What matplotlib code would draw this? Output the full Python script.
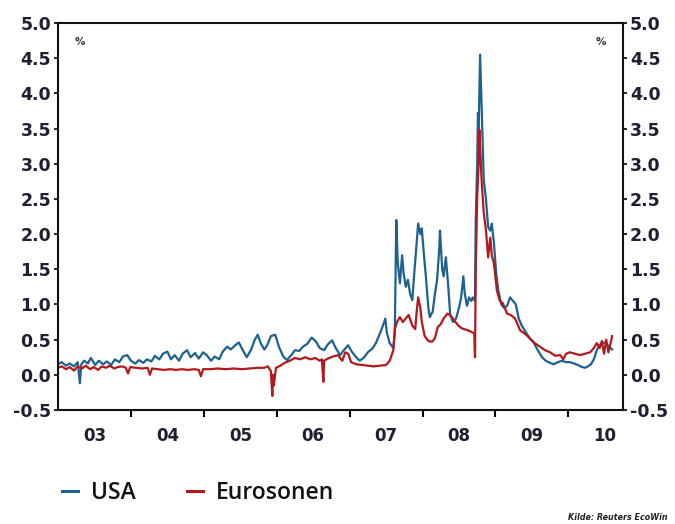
import matplotlib
matplotlib.use("Agg")
import matplotlib.pyplot as plt
import numpy as np

# ---- data (decimal year, %) ----
usa_t = [2003.00, 2003.05, 2003.11, 2003.16, 2003.22, 2003.27, 2003.30, 2003.32, 2003.36, 2003.41,
         2003.45, 2003.51, 2003.56, 2003.62, 2003.67, 2003.73, 2003.78, 2003.84, 2003.89, 2003.95,
         2004.00, 2004.06, 2004.11, 2004.17, 2004.22, 2004.28, 2004.33, 2004.39, 2004.44, 2004.50,
         2004.55, 2004.60, 2004.66, 2004.71, 2004.77, 2004.82, 2004.88, 2004.93, 2004.99, 2005.04,
         2005.10, 2005.15, 2005.21, 2005.26, 2005.32, 2005.37, 2005.43, 2005.48, 2005.54, 2005.59,
         2005.65, 2005.70, 2005.74, 2005.78, 2005.83, 2005.87, 2005.92, 2005.98, 2006.03, 2006.09,
         2006.14, 2006.20, 2006.25, 2006.31, 2006.36, 2006.42, 2006.48, 2006.54, 2006.59, 2006.65,
         2006.70, 2006.76, 2006.81, 2006.87, 2006.92, 2006.98, 2007.03, 2007.09, 2007.14, 2007.20,
         2007.25, 2007.31, 2007.36, 2007.40, 2007.44, 2007.49, 2007.51, 2007.55, 2007.60, 2007.62,
         2007.64, 2007.66, 2007.69, 2007.72, 2007.74, 2007.77, 2007.80, 2007.83, 2007.86, 2007.88,
         2007.91, 2007.94, 2007.97, 2007.99, 2008.02, 2008.05, 2008.08, 2008.10, 2008.14, 2008.17,
         2008.20, 2008.23, 2008.24, 2008.27, 2008.29, 2008.32, 2008.35, 2008.38, 2008.42, 2008.46,
         2008.50, 2008.53, 2008.56, 2008.58, 2008.61, 2008.64, 2008.67, 2008.69, 2008.72, 2008.73,
         2008.75, 2008.76, 2008.77, 2008.79, 2008.82, 2008.84, 2008.87, 2008.90, 2008.93, 2008.95,
         2008.98, 2009.01, 2009.04, 2009.08, 2009.12, 2009.16, 2009.20, 2009.24, 2009.28, 2009.32,
         2009.36, 2009.42, 2009.47, 2009.53, 2009.58, 2009.64, 2009.69, 2009.75, 2009.80, 2009.86,
         2009.91, 2009.97, 2010.02, 2010.08, 2010.13, 2010.19, 2010.23, 2010.27, 2010.31, 2010.35,
         2010.39, 2010.43, 2010.48, 2010.52, 2010.56, 2010.60]
usa_v = [0.15, 0.18, 0.13, 0.16, 0.12, 0.18, -0.12, 0.15, 0.20, 0.16,
         0.24, 0.14, 0.20, 0.15, 0.19, 0.14, 0.22, 0.18, 0.26, 0.28,
         0.20, 0.16, 0.21, 0.17, 0.22, 0.19, 0.27, 0.22, 0.30, 0.33,
         0.22, 0.28, 0.20, 0.30, 0.35, 0.25, 0.31, 0.23, 0.32, 0.28,
         0.20, 0.26, 0.22, 0.33, 0.40, 0.36, 0.42, 0.46, 0.34, 0.25,
         0.36, 0.50, 0.57, 0.45, 0.36, 0.42, 0.55, 0.57, 0.40, 0.26,
         0.21, 0.28, 0.35, 0.34, 0.40, 0.44, 0.53, 0.47, 0.38, 0.35,
         0.43, 0.49, 0.38, 0.28, 0.35, 0.42, 0.33, 0.25, 0.20, 0.25,
         0.32, 0.37, 0.45, 0.55, 0.65, 0.80, 0.60, 0.45, 0.38, 0.60,
         2.20, 1.60, 1.30, 1.70, 1.45, 1.25, 1.35, 1.15, 1.06, 1.35,
         1.75, 2.15, 2.00, 2.08, 1.70, 1.35, 0.95, 0.82, 0.90, 1.15,
         1.35, 1.80, 2.05, 1.50, 1.40, 1.67, 1.30, 0.85, 0.75, 0.80,
         0.95, 1.10, 1.40, 1.15, 0.98, 1.10, 1.05, 1.10, 1.05, 2.20,
         3.00, 3.72, 3.50, 4.55, 3.48, 2.77, 2.50, 2.10, 2.05, 2.15,
         1.87, 1.45, 1.20, 1.00, 0.95, 0.98, 1.10, 1.05, 1.00, 0.80,
         0.70, 0.60, 0.52, 0.45, 0.35, 0.25, 0.20, 0.17, 0.15, 0.18,
         0.20, 0.18, 0.18, 0.16, 0.14, 0.11, 0.10, 0.12, 0.15, 0.22,
         0.35, 0.42, 0.46, 0.44, 0.40, 0.36]

euro_t = [2003.00, 2003.05, 2003.11, 2003.16, 2003.22, 2003.27, 2003.33, 2003.38, 2003.44, 2003.49,
          2003.55, 2003.60, 2003.66, 2003.71, 2003.77, 2003.82, 2003.88, 2003.93, 2003.96, 2003.99,
          2004.07, 2004.15, 2004.23, 2004.26, 2004.29, 2004.37, 2004.45, 2004.54, 2004.62, 2004.70,
          2004.78, 2004.87, 2004.93, 2004.96, 2004.99, 2005.09, 2005.19, 2005.30, 2005.41, 2005.52,
          2005.63, 2005.74, 2005.83, 2005.88, 2005.92, 2005.94, 2005.95, 2005.96, 2005.99, 2006.05,
          2006.11, 2006.18, 2006.25, 2006.32, 2006.39, 2006.46, 2006.53, 2006.59, 2006.62, 2006.64,
          2006.65, 2006.70, 2006.77, 2006.84, 2006.90, 2006.94, 2006.98, 2007.02, 2007.09, 2007.17,
          2007.25, 2007.33, 2007.42, 2007.50, 2007.55, 2007.60, 2007.62, 2007.65, 2007.69, 2007.73,
          2007.77, 2007.81, 2007.86, 2007.90, 2007.92, 2007.94, 2007.97, 2007.99, 2008.03, 2008.08,
          2008.13, 2008.17, 2008.21, 2008.25, 2008.29, 2008.34, 2008.38, 2008.43, 2008.49, 2008.54,
          2008.60, 2008.65, 2008.69, 2008.71, 2008.72, 2008.73, 2008.75, 2008.77, 2008.78, 2008.81,
          2008.84, 2008.87, 2008.90, 2008.93, 2008.95, 2008.98, 2009.02, 2009.06, 2009.10, 2009.16,
          2009.21, 2009.27, 2009.34, 2009.41, 2009.47, 2009.54, 2009.61, 2009.68, 2009.75, 2009.82,
          2009.89, 2009.93, 2009.97, 2010.02, 2010.09, 2010.16, 2010.23, 2010.30, 2010.35, 2010.39,
          2010.43, 2010.46, 2010.49, 2010.52, 2010.55, 2010.58, 2010.60]
euro_v = [0.10, 0.12, 0.08, 0.11, 0.06, 0.12, 0.09, 0.13, 0.08, 0.11,
          0.07, 0.12, 0.10, 0.13, 0.09, 0.11, 0.12, 0.10, 0.02, 0.11,
          0.10, 0.09, 0.10, 0.00, 0.09, 0.08, 0.07, 0.08, 0.07, 0.08,
          0.07, 0.08, 0.07, -0.02, 0.08, 0.08, 0.09, 0.08, 0.09, 0.08,
          0.09, 0.10, 0.10, 0.12, 0.05, -0.30, 0.00, -0.15, 0.10, 0.13,
          0.17, 0.20, 0.24, 0.22, 0.25, 0.22, 0.24, 0.20, 0.22, -0.10,
          0.20, 0.23, 0.26, 0.28, 0.20, 0.32, 0.30, 0.18, 0.15, 0.14,
          0.13, 0.12, 0.13, 0.14, 0.20, 0.35, 0.65, 0.75, 0.82, 0.75,
          0.80, 0.85, 0.70, 0.65, 0.90, 1.10, 0.95, 0.75, 0.55, 0.48,
          0.47, 0.52, 0.68, 0.72, 0.80, 0.87, 0.85, 0.78, 0.70, 0.66,
          0.64, 0.62, 0.60, 0.58, 0.25, 1.50, 2.53, 3.00, 3.48, 2.77,
          2.30, 2.06, 1.67, 1.95, 1.70, 1.58, 1.20, 1.05, 1.02, 0.87,
          0.85, 0.80, 0.63, 0.58, 0.52, 0.45, 0.40, 0.35, 0.32, 0.27,
          0.28, 0.22, 0.30, 0.32, 0.30, 0.28, 0.30, 0.32, 0.38, 0.45,
          0.38, 0.48, 0.30, 0.50, 0.32, 0.45, 0.55]

year_labels = ["03", "04", "05", "06", "07", "08", "09", "10"]
y_ticks = [-0.5, 0.0, 0.5, 1.0, 1.5, 2.0, 2.5, 3.0, 3.5, 4.0, 4.5, 5.0]
series_names = ["USA", "Eurosonen"]

# ---- style ----
BLUE = "#1d6190"
RED = "#b3191c"
TXT = "#1e2030"

fig = plt.figure(figsize=(6.75, 5.24), dpi=100)
ax = fig.add_axes([58 / 675, 1 - 410 / 524, (623 - 58) / 675, (410 - 23) / 524])

ax.plot(usa_t, usa_v, color=BLUE, lw=1.6, label=series_names[0])
ax.plot(euro_t, euro_v, color=RED, lw=1.6, label=series_names[1])

ax.set_xlim(2003.0, 2010.75)
ax.set_ylim(-0.5, 5.0)

ax.set_yticks(y_ticks)
ax.set_yticklabels([f"{v:.1f}" for v in y_ticks])
ax.tick_params(axis="y", which="both", direction="out", length=3, width=1.2,
               left=True, right=True, labelleft=True, labelright=True,
               labelsize=12.5, labelcolor=TXT, pad=2)

years = np.arange(2003, 2011)
ax.set_xticks(years[1:])
ax.set_xticklabels([])
ax.set_xticks(years + 0.5, minor=True)
ax.set_xticklabels(year_labels, minor=True)
ax.tick_params(axis="x", which="major", direction="out", length=5, width=1.5)
ax.tick_params(axis="x", which="minor", length=0, labelsize=12, labelcolor=TXT, pad=12)

for lab in ax.get_yticklabels() + ax.get_xticklabels(minor=True):
    lab.set_fontweight("bold")

for s in ax.spines.values():
    s.set_linewidth(1.5)
    s.set_color("#111111")

ax.text(0.03, 0.952, "%", transform=ax.transAxes, fontsize=7.5, fontweight="bold",
        color="#333333", ha="left", va="center")
ax.text(0.97, 0.952, "%", transform=ax.transAxes, fontsize=7.5, fontweight="bold",
        color="#333333", ha="right", va="center")

leg = ax.legend(loc="center left", bbox_to_anchor=(41 / 675, 1 - 493 / 524),
                bbox_transform=fig.transFigure, ncol=2, frameon=False,
                handlelength=0.7, handletextpad=0.6, columnspacing=2.2,
                prop={"family": "Open Sans", "size": 16.5, "weight": "semibold"})
for line in leg.get_lines():
    line.set_linewidth(2.2)
for t in leg.get_texts():
    t.set_color("#111111")

fig.text(668 / 675, 1 - 518 / 524, "Kilde: Reuters EcoWin", ha="right", va="center",
         fontsize=5.8, style="italic", fontweight="bold", color="#222222")

fig.savefig("out.png", dpi=100)
